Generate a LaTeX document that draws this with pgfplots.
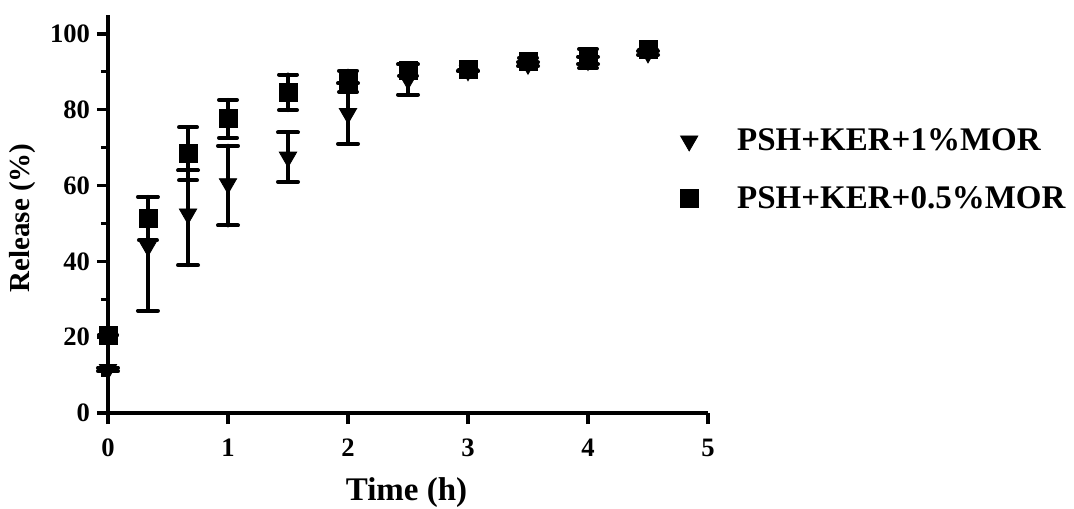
\documentclass[border=0pt]{standalone}
\usepackage{fontspec}
\setmainfont{Liberation Serif}
\usepackage{pgfplots}
\pgfplotsset{compat=1.18}

\begin{document}
\begin{tikzpicture}
\useasboundingbox (-54pt,-47.5pt) rectangle (483pt,206.5pt);
\begin{axis}[
    scale only axis,
    width=300pt, height=199pt,
    xmin=0, xmax=5, ymin=0, ymax=105,
    clip=false,
    axis lines=left,
    axis line style={line width=1.6pt, -},
    xtick={0,1,2,3,4,5},
    ytick={0,20,40,60,80,100},
    minor ytick={10,30,50,70,90},
    tick align=outside,
    major tick length=5.5pt,
    minor tick length=3.5pt,
    every tick/.style={line width=1.6pt, black},
    /pgf/number format/assume math mode=true,
    ticklabel style={font=\bfseries\fontsize{13.3}{15}\selectfont},
    xticklabel style={yshift=-4pt},
    xlabel={Time (h)},
    ylabel={Release (\%)},
    xlabel style={font=\bfseries\fontsize{16.5}{19}\selectfont,
        at={(axis description cs:0.4975,-0.2)}, anchor=center},
    ylabel style={font=\bfseries\fontsize{14.5}{17}\selectfont,
        at={(axis description cs:-0.1417,0.49)}, anchor=center},
    legend style={draw=none, fill=none, inner sep=0pt,
        font=\bfseries\fontsize{16.5}{19}\selectfont,
        at={(axis description cs:0.953,0.726)}, anchor=north west,
        row sep=12.5pt,
        /tikz/every odd column/.append style={column sep=17.5pt}},
    legend cell align=left,
]

% PSH+KER+1%MOR (triangles)
\addplot[only marks, black, mark=triangle*, mark size=5pt,
    mark options={rotate=180, fill=black},
    error bars/.cd, y dir=both, y explicit,
    error bar style={line width=2pt, line cap=round},
    error mark options={rotate=90, line width=2pt, mark size=5pt, line cap=round}]
coordinates {
    (0,11.5)     +- (0,0.5)
    (0.333,44)   += (0,13)   -= (0,17)
    (0.667,52.5) += (0,11.5) -= (0,13.5)
    (1,60.5)     += (0,10)   -= (0,11)
    (1.5,67.5)   +- (0,6.5)
    (2,79)       +- (0,8)
    (2.5,88)     +- (0,4)
    (3,90.3)     +- (0,0)
    (3.5,92)     +- (0,0.5)
    (4,93)       +- (0,1)
    (4.5,95)     +- (0,0.5)
};
\addlegendentry{PSH+KER+1\%MOR}

% PSH+KER+0.5%MOR (squares)
\addplot[only marks, black, mark=square*, mark size=4.5pt,
    mark options={fill=black},
    error bars/.cd, y dir=both, y explicit,
    error bar style={line width=2pt, line cap=round},
    error mark options={rotate=90, line width=2pt, mark size=4.5pt, line cap=round}]
coordinates {
    (0,20.5)     +- (0,0)
    (0.333,51.3) +- (0,5.7)
    (0.667,68.4) +- (0,7)
    (1,77.6)     +- (0,5)
    (1.5,84.6)   +- (0,4.7)
    (2,87.5)     +- (0,2.8)
    (2.5,90.5)   +- (0,1.5)
    (3,90.6)     +- (0,0)
    (3.5,92.7)   +- (0,1)
    (4,93.5)     +- (0,2.5)
    (4.5,95.8)   +- (0,0)
};
\addlegendentry{PSH+KER+0.5\%MOR}

\end{axis}
\end{tikzpicture}
\end{document}
